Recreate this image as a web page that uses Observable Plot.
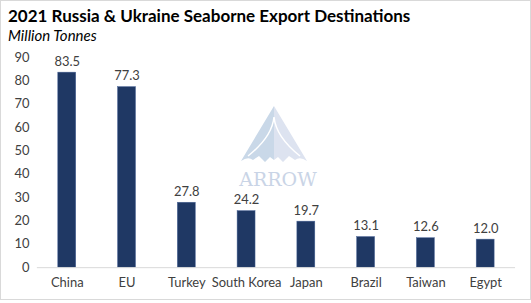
<!DOCTYPE html>
<html>
<head>
<meta charset="utf-8">
<script src="https://cdn.jsdelivr.net/npm/d3@7"></script>
<script src="https://cdn.jsdelivr.net/npm/@observablehq/plot@0.6"></script>
<style>
  html, body { margin: 0; padding: 0; background: #fff; }
  #frame { position: relative; width: 529px; height: 298px; border: 1px solid #d9d9d9; overflow: hidden; font-family: Lato, "Open Sans", sans-serif; }
  #title { position: absolute; left: 7px; top: 4px; font-size: 17px; font-weight: bold; color: #000; white-space: nowrap; }
  #subtitle { position: absolute; left: 7px; top: 25px; font-size: 15px; font-style: italic; color: #000; white-space: nowrap; }
  #chart { position: absolute; left: 0; top: 47px; }
  #wm { position: absolute; left: 225px; top: 100px; }
</style>
</head>
<body>
<div id="frame">
  <div id="title">2021 Russia &amp; Ukraine Seaborne Export Destinations</div>
  <div id="subtitle">Million Tonnes</div>
  <svg id="wm" width="100" height="90" viewBox="0 0 100 90">
    <path d="M48 5 L15 60 Q22 55 27 59 L33 55 L39 61 L44 56 L48 59 Z" fill="#c9d8e8"/>
    <path d="M48 5 L81 60 Q74 55 69 59 L63 55 L57 61 L52 56 L48 59 Z" fill="#dde3f0"/>
    <path d="M22 55 Q46 36 48 16 Q50 36 74 55" fill="none" stroke="#fff" stroke-width="1.5"/>
    <text x="52" y="85" text-anchor="middle" font-family="'DejaVu Serif', 'Liberation Serif', serif" font-size="19" fill="#c9d4e6">ARROW</text>
  </svg>
  <div id="chart"></div>
</div>
<script>
const categories = ["China", "EU", "Turkey", "South Korea", "Japan", "Brazil", "Taiwan", "Egypt"];
const values = [83.5, 77.3, 27.8, 24.2, 19.7, 13.1, 12.6, 12.0];
const yTicks = [0, 10, 20, 30, 40, 50, 60, 70, 80, 90];

const data = categories.map((c, i) => ({category: c, value: values[i]}));

const chart = Plot.plot({
  width: 531,
  height: 255,
  marginTop: 9,
  marginBottom: 35,
  marginLeft: 36,
  marginRight: 15,
  style: {fontFamily: "Lato, 'Open Sans', sans-serif", fontSize: "13px", color: "#404040", background: "transparent"},
  x: {domain: categories, paddingInner: 0.7, paddingOuter: 0.35, label: null, tickSize: 0, tickPadding: 10},
  y: {domain: [0, 90], ticks: yTicks, label: null, tickSize: 0, tickPadding: 8},
  marks: [
    Plot.barY(data, {x: "category", y: "value", fill: "#1f3864", stroke: "#4a6597", strokeWidth: 0.5}),
    Plot.ruleY([0], {stroke: "#d9d9d9", strokeWidth: 1}),
    Plot.text(data, {x: "category", y: "value", text: d => d.value.toFixed(1), dy: -11, fill: "#404040", fontSize: 13})
  ]
});
document.getElementById("chart").appendChild(chart);
</script>
</body>
</html>
